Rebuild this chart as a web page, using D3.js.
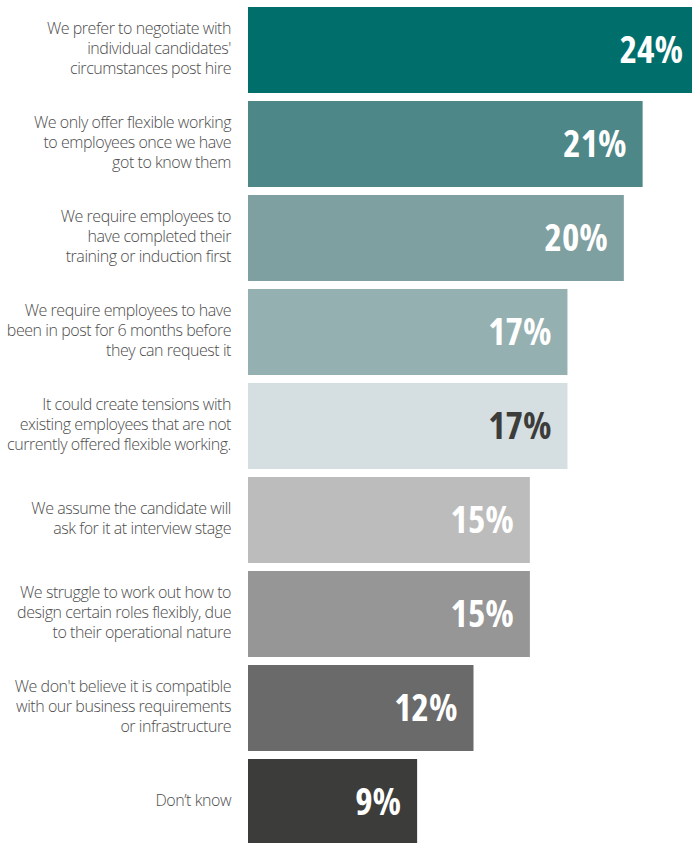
<!DOCTYPE html>
<html>
<head>
<meta charset="utf-8">
<script src="https://cdn.jsdelivr.net/npm/d3@7"></script>
<style>
  html, body { margin: 0; padding: 0; background: #fff; }
  svg { display: block; }
</style>
</head>
<body>
<svg id="chart" width="692" height="843"></svg>
<script>
// Reasons given, one entry per bar (lines of the wrapped label)
const categories = [
  ["We prefer to negotiate with", "individual candidates'", "circumstances post hire"],
  ["We only offer flexible working", "to employees once we have", "got to know them"],
  ["We require employees to", "have completed their", "training or induction first"],
  ["We require employees to have", "been in post for 6 months before", "they can request it"],
  ["It could create tensions with", "existing employees that are not", "currently offered flexible working."],
  ["We assume the candidate will", "ask for it at interview stage"],
  ["We struggle to work out how to", "design certain roles flexibly, due", "to their operational nature"],
  ["We don't believe it is compatible", "with our business requirements", "or infrastructure"],
  ["Don\u2019t know"]
];
const values = [24, 21, 20, 17, 17, 15, 15, 12, 9];
const barColors = ["#006f6c", "#4e8787", "#7fa0a0", "#95b0b0", "#d5dee0", "#bcbcbc", "#969696", "#6a6a6a", "#3c3c3b"];
const valueColors = ["#ffffff", "#ffffff", "#ffffff", "#ffffff", "#3c3c3b", "#ffffff", "#ffffff", "#ffffff", "#ffffff"];

const svg = d3.select("#chart");
const idx = d3.range(values.length);

const x = d3.scaleLinear().domain([0, 24]).range([248, 699]);
const y = d3.scaleBand().domain(idx).range([7, 845]).paddingInner(8 / 94).paddingOuter(0);

// Bars
svg.append("g").selectAll("rect")
  .data(idx)
  .join("rect")
  .attr("x", x(0))
  .attr("y", i => y(i))
  .attr("width", i => x(values[i]) - x(0))
  .attr("height", y.bandwidth())
  .attr("fill", i => barColors[i]);

// Value labels inside the bar ends
svg.append("g").selectAll("text")
  .data(idx)
  .join("text")
  .attr("x", i => x(values[i]) - 16)
  .attr("y", i => y(i) + y.bandwidth() / 2 + 13)
  .attr("text-anchor", "end")
  .attr("fill", i => valueColors[i])
  .style("font-family", "'Open Sans', sans-serif")
  .style("font-weight", 700)
  .style("font-stretch", "80%")
  .style("font-size", "37px")
  .text(i => values[i] + "%");

// Category labels, right-aligned left of the bars
const lineH = 20;
const labels = svg.append("g").selectAll("text")
  .data(idx)
  .join("text")
  .attr("text-anchor", "end")
  .attr("fill", "#4d4d4d")
  .style("font-family", "'Open Sans', sans-serif")
  .style("font-weight", 300)
  .style("font-stretch", "100%")
  .style("letter-spacing", "-0.45px")
  .style("font-size", "16px");

labels.each(function (i) {
  const lines = categories[i];
  const cy = y(i) + y.bandwidth() / 2;
  const first = cy - (lines.length - 1) * lineH / 2 + 4;
  d3.select(this).selectAll("tspan")
    .data(lines)
    .join("tspan")
    .attr("x", 231)
    .attr("y", (d, k) => first + k * lineH)
    .text(d => d);
});
</script>
</body>
</html>
